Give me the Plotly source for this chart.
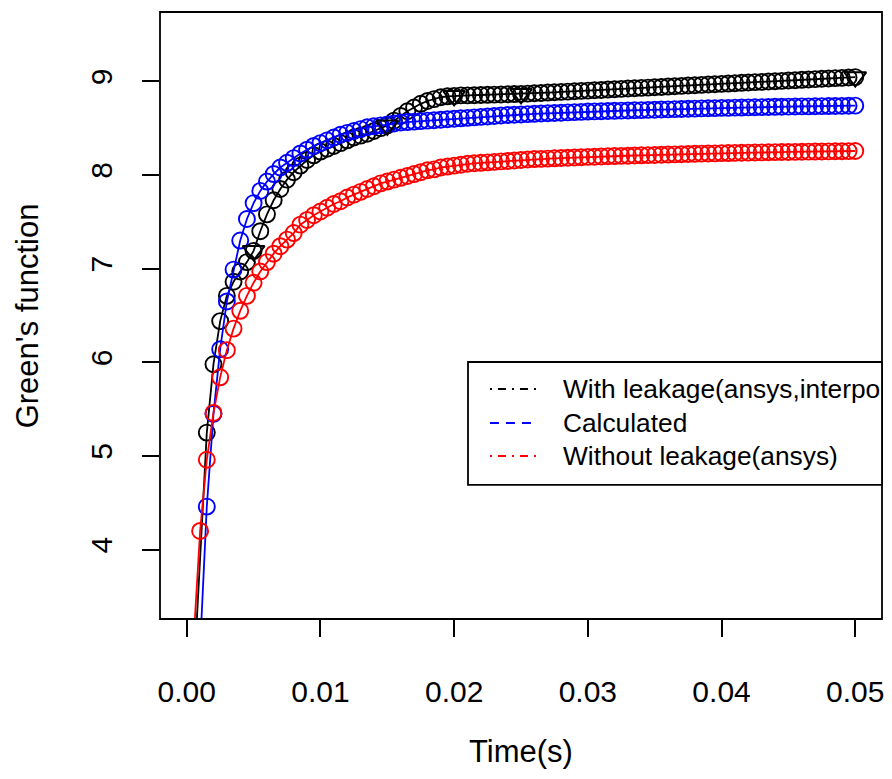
import plotly.graph_objects as go

# ---------------- data ----------------
step = 0.0005

# Without leakage (ansys) - red, t = 0.0005 ... 0.05
red_t = [round(step * k, 4) for k in range(1, 101)]
red_g = [3.00, 4.20, 4.96, 5.46, 5.84, 6.13, 6.36, 6.55, 6.71, 6.85,
         6.97, 7.07, 7.16, 7.24, 7.31, 7.38, 7.47, 7.52, 7.57, 7.61,
         7.65, 7.69, 7.72, 7.76, 7.79, 7.82, 7.85, 7.88, 7.91, 7.93,
         7.95, 7.97, 7.99, 8.01, 8.03, 8.05, 8.06, 8.08, 8.09, 8.10,
         8.11, 8.12, 8.125, 8.13, 8.135, 8.14, 8.145, 8.15, 8.155, 8.16,
         8.165, 8.17, 8.172, 8.175, 8.178, 8.181, 8.184, 8.187, 8.19, 8.193,
         8.195, 8.197, 8.20, 8.202, 8.204, 8.206, 8.208, 8.21, 8.212, 8.214,
         8.216, 8.218, 8.22, 8.222, 8.224, 8.226, 8.228, 8.23, 8.231, 8.233,
         8.234, 8.236, 8.237, 8.239, 8.24, 8.241, 8.243, 8.244, 8.245, 8.246,
         8.247, 8.248, 8.249, 8.25, 8.251, 8.252, 8.253, 8.254, 8.255, 8.256]

# Calculated - blue, t = 0.001 ... 0.05
blue_t = [round(step * k, 4) for k in range(2, 101)]
blue_g = [2.95, 4.46, 5.45, 6.14, 6.65, 6.99, 7.30, 7.53, 7.70,
          7.83, 7.93, 8.01, 8.08, 8.13, 8.18, 8.23, 8.27, 8.31, 8.34,
          8.37, 8.40, 8.43, 8.45, 8.47, 8.49, 8.51, 8.52, 8.53, 8.54,
          8.55, 8.56, 8.565, 8.57, 8.575, 8.58, 8.585, 8.59, 8.595, 8.60,
          8.605, 8.61, 8.615, 8.62, 8.625, 8.63, 8.635, 8.64, 8.643, 8.646,
          8.65, 8.653, 8.656, 8.659, 8.662, 8.665, 8.668, 8.671, 8.674, 8.677,
          8.679, 8.681, 8.683, 8.685, 8.687, 8.689, 8.691, 8.693, 8.695, 8.697,
          8.699, 8.701, 8.703, 8.705, 8.707, 8.709, 8.711, 8.713, 8.714, 8.716,
          8.717, 8.719, 8.72, 8.722, 8.723, 8.725, 8.726, 8.728, 8.729, 8.73,
          8.731, 8.732, 8.733, 8.734, 8.735, 8.736, 8.737, 8.738, 8.739, 8.74]

# With leakage (ansys, interpolated) - black, t = 0.0005, then 0.0015 ... 0.05
black_t = [0.0005] + [round(step * k, 4) for k in range(3, 101)]
black_g = [2.57,
           5.25, 5.98, 6.44, 6.71, 6.86, 6.97, 7.07, 7.19,
           7.40, 7.58, 7.73, 7.85, 7.95, 8.03, 8.10, 8.16, 8.21, 8.25,
           8.28, 8.31, 8.34, 8.37, 8.40, 8.42, 8.44, 8.47, 8.50, 8.53,
           8.58, 8.63, 8.68, 8.72, 8.76, 8.79, 8.81, 8.83, 8.84, 8.845,
           8.85, 8.85, 8.852, 8.854, 8.856, 8.858, 8.86, 8.862, 8.864, 8.866,
           8.869, 8.873, 8.876, 8.88, 8.883, 8.887, 8.89, 8.894, 8.898, 8.901,
           8.905, 8.908, 8.912, 8.915, 8.919, 8.923, 8.926, 8.93, 8.933, 8.937,
           8.94, 8.944, 8.948, 8.951, 8.955, 8.958, 8.962, 8.966, 8.969, 8.973,
           8.976, 8.98, 8.984, 8.987, 8.991, 8.994, 8.998, 9.001, 9.005, 9.009,
           9.012, 9.016, 9.019, 9.023, 9.027, 9.03, 9.034, 9.037, 9.041, 9.045]

# interpolation nodes of the black series (down triangles)
node_t = [0.005, 0.015, 0.020, 0.025, 0.050]
node_g = [7.19, 8.53, 8.845, 8.866, 9.045]

x_ticks = [0.00, 0.01, 0.02, 0.03, 0.04, 0.05]
x_tick_text = ["0.00", "0.01", "0.02", "0.03", "0.04", "0.05"]
y_ticks = [4, 5, 6, 7, 8, 9]

legend_labels = ["With leakage(ansys,interpo", "Calculated", "Without leakage(ansys)"]
legend_colors = ["black", "blue", "red"]
legend_dashes = ["2px,6px,8px,6px", "9px,7px", "2px,6px,8px,6px"]

# ---------------- figure ----------------
FONT = "Liberation Sans, Arial, sans-serif"
fig = go.Figure()

def series(t, g, color):
    return go.Scatter(
        x=t, y=g, mode="lines+markers",
        line=dict(color=color, width=1.8),
        marker=dict(symbol="circle-open", size=16, color=color,
                    line=dict(width=1.9, color=color)),
        showlegend=False, cliponaxis=True,
    )

fig.add_trace(series(black_t, black_g, "black"))
fig.add_trace(series(blue_t, blue_g, "blue"))
fig.add_trace(series(red_t, red_g, "red"))
fig.add_trace(go.Scatter(
    x=node_t, y=node_g, mode="markers",
    marker=dict(symbol="triangle-down-open", size=19, color="black",
                line=dict(width=2.0, color="black")),
    showlegend=False,
))

# plot frame
fig.add_shape(type="rect", xref="paper", yref="paper", x0=0, x1=1, y0=0, y1=1,
              line=dict(color="black", width=1.8), layer="above")

# legend box (clipped by plot border at right)
lx0, ly0, ly1 = 0.4266, 0.2208, 0.4234
fig.add_shape(type="rect", xref="paper", yref="paper", x0=lx0, x1=1.0, y0=ly0, y1=ly1,
              line=dict(color="black", width=1.8), fillcolor="white", layer="above")
row_y = [0.3789, 0.3229, 0.2685]
for lab, col, dsh, yy in zip(legend_labels, legend_colors, legend_dashes, row_y):
    fig.add_shape(type="line", xref="paper", yref="paper", x0=0.457, x1=0.522,
                  y0=yy, y1=yy, line=dict(color=col, width=1.8, dash=dsh), layer="above")
    fig.add_annotation(xref="paper", yref="paper", x=0.5554, y=yy, text=lab,
                       showarrow=False, xanchor="left", yanchor="middle",
                       font=dict(family=FONT, size=26.3, color="black"))

# axis titles
fig.add_annotation(xref="paper", yref="paper", x=0.5, y=-0.219, text="Time(s)",
                   showarrow=False, xanchor="center", yanchor="middle",
                   font=dict(family=FONT, size=31, color="black"))
fig.add_annotation(xref="paper", yref="paper", x=-0.183, y=0.5, text="Green's function",
                   showarrow=False, xanchor="center", yanchor="middle", textangle=-90,
                   font=dict(family=FONT, size=31, color="black"))

fig.update_layout(
    width=892, height=779,
    margin=dict(l=160, r=10, t=12, b=160, autoexpand=False),
    paper_bgcolor="white", plot_bgcolor="white",
    font=dict(family=FONT, size=30, color="black"),
    showlegend=False,
    xaxis=dict(range=[-0.002, 0.052], tickvals=x_ticks, ticktext=x_tick_text,
               ticks="outside", ticklen=17, tickwidth=1.8, tickcolor="black",
               showgrid=False, zeroline=False, showline=False, automargin=False,
               ticklabelstandoff=29,
               tickfont=dict(family=FONT, size=30, color="black")),
    yaxis=dict(range=[3.26, 9.74], tickvals=y_ticks,
               ticks="outside", ticklen=17, tickwidth=1.8, tickcolor="black",
               showgrid=False, zeroline=False, showline=False, automargin=False,
               tickangle=-90, ticklabelstandoff=18,
               tickfont=dict(family=FONT, size=30, color="black")),
)

fig.write_html("out.html", config={"displayModeBar": False},
               post_script="document.body.style.margin='0';document.body.style.overflow='hidden';")
